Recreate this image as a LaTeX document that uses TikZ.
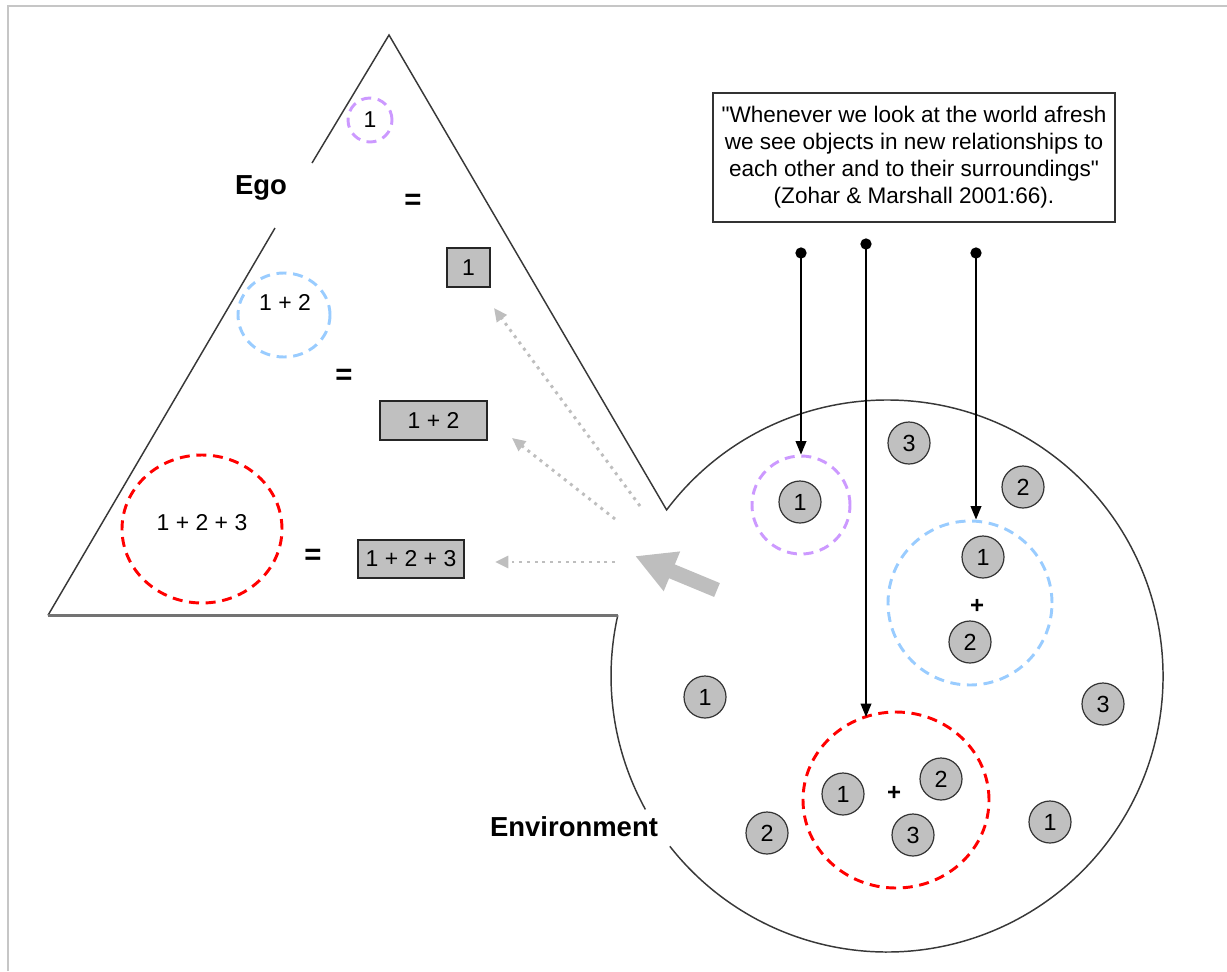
\documentclass[tikz,border=0pt]{standalone}
\usepackage{fontspec}
\setmainfont{Liberation Sans}
\newfontfamily\qfont{Liberation Sans}
\usetikzlibrary{arrows.meta,shapes.geometric}
\definecolor{purp}{HTML}{CC99FF}
\definecolor{lblue}{HTML}{99CCFF}
\definecolor{ballgray}{HTML}{C0C0C0}
\definecolor{arrgray}{HTML}{BEBEBE}
\tikzset{
  frame/.style={draw=gray!45, line width=1.5pt},
  outline/.style={draw=black!78, line width=1.1pt},
  baseline/.style={draw=black!55, line width=1.8pt},
  dashcirc/.style={line width=2.2pt, dash pattern=on 7.5pt off 5pt, inner sep=0pt},
  ball/.style={circle, draw=black!80, fill=ballgray, line width=0.9pt, minimum size=31.5pt, inner sep=0pt, font=\fontsize{17.5}{19}\selectfont},
  sumbox/.style={rectangle, draw=black!85, fill=ballgray, line width=1.1pt, inner sep=0pt, font=\fontsize{17.2}{19}\selectfont},
  digits/.style={font=\fontsize{17.2}{19}\selectfont, inner sep=0pt},
  eqsign/.style={font=\bfseries\fontsize{22}{23}\selectfont, inner sep=0pt},
  plussign/.style={font=\bfseries\fontsize{18}{20}\selectfont, inner sep=0pt},
  biglabel/.style={font=\bfseries\fontsize{20.6}{24}\selectfont, inner sep=0pt},
  dotnode/.style={circle, fill=black, minimum size=8.5pt, inner sep=0pt},
  pointer/.style={draw=black, line width=1pt, -{Triangle[length=10pt,width=8pt]}},
  dotarrow/.style={draw=arrgray, line width=2.2pt, dash pattern=on 2.2pt off 3.6pt, -{Triangle[length=10pt,width=9pt]}},
  bigarrow/.style={draw=arrgray, line width=11.25pt, -{Triangle[length=30pt,width=30pt]}},
}
\begin{document}
\begin{tikzpicture}[x=0.75pt,y=0.75pt]
\useasboundingbox (0,-971) rectangle (1227,0);
% frame
\coordinate (fbl) at (8,-971);
\coordinate (ftl) at (8,-5.5);
\coordinate (ftr) at (1227,-5.5);
\draw[frame] (fbl) -- (ftl) -- (ftr);

% triangle (Ego) and circle (Environment)
\coordinate (apex) at (389,-35);
\coordinate (bl) at (48,-615.3);
\coordinate (egoA) at (312,-163);
\coordinate (egoB) at (275,-228);
\coordinate (nt) at (666.6,-509.9);
\coordinate (nb) at (617.8,-615.3);
\coordinate (gt) at (645.4,-809.4);
\draw[outline] (bl) -- (egoB);
\draw[outline] (egoA) -- (apex) -- (nt) arc[start angle=143, end angle=-141.9, radius=276];
\draw[outline] (gt) arc[start angle=208.9, end angle=167.3, radius=276];
\draw[baseline] (bl) -- (nb);

\node[biglabel] (ego) at (261,-188) {Ego};
\node[biglabel] (env) at (574,-827) {Environment};

% triangle contents
\node[dashcirc, draw=purp, circle, minimum size=33pt, digits] (tp) at (370,-120) {1};
\node[dashcirc, draw=lblue, ellipse, minimum width=69pt, minimum height=63pt] (tb) at (284,-315) {};
\node[digits] (tbt) at (285,-302) {1 + 2};
\node[dashcirc, draw=red, ellipse, minimum width=120pt, minimum height=111pt] (tr) at (202,-529) {};
\node[digits] (trt) at (202,-523) {1 + 2 + 3};

\node[eqsign] (eq1) at (413,-202) {=};
\node[eqsign] (eq2) at (344,-377) {=};
\node[eqsign] (eq3) at (313,-557) {=};

\node[sumbox, minimum width=32pt, minimum height=29pt] (s1) at (468.5,-267.5) {1};
\node[sumbox, minimum width=80pt, minimum height=29pt] (s2) at (433.5,-420.5) {1 + 2};
\node[sumbox, minimum width=79.5pt, minimum height=28.5pt] (s3) at (411,-559) {1 + 2 + 3};

% gray dotted arrows and big arrow
\coordinate (a1s) at (640,-506);
\coordinate (a1e) at (494,-308);
\coordinate (a2s) at (615,-519);
\coordinate (a2e) at (512,-438);
\coordinate (a3s) at (615,-562);
\coordinate (a3e) at (495,-562);
\draw[dotarrow] (a1s) -- (a1e);
\draw[dotarrow] (a2s) -- (a2e);
\draw[dotarrow] (a3s) -- (a3e);
\coordinate (bas) at (717,-590);
\coordinate (bae) at (635,-556);
\draw[bigarrow] (bas) -- (bae);

% quote
\node[draw=black!80, line width=1pt, minimum width=301.5pt, minimum height=96.75pt, inner sep=0pt, align=center,
  font=\qfont\fontsize{16.9}{20.25}\selectfont] (quote) at (914,-157.5)
  {"Whenever we look at the world afresh\\we see objects in new relationships to\\each other and to their surroundings"\\(Zohar \& Marshall 2001:66).};

% environment groups
\node[dashcirc, draw=purp, circle, minimum size=73.5pt] (pe) at (801,-505) {};
\node[dashcirc, draw=lblue, circle, minimum size=123pt] (be) at (970,-603) {};
\node[dashcirc, draw=red, ellipse, minimum width=139.5pt, minimum height=132pt] (re) at (896,-800) {};

\node[ball] (b1) at (800,-502) {1};
\node[ball] (b2) at (909,-443) {3};
\node[ball] (b3) at (1023,-487) {2};
\node[ball] (b4) at (983,-557) {1};
\node[plussign] (p1) at (977,-606) {+};
\node[ball] (b5) at (970,-642) {2};
\node[ball] (b6) at (1103,-704) {3};
\node[ball] (b7) at (705,-697) {1};
\node[ball] (b8) at (843,-794) {1};
\node[plussign] (p2) at (894,-793) {+};
\node[ball] (b9) at (941,-779) {2};
\node[ball] (b10) at (913,-835) {3};
\node[ball] (b11) at (767,-833) {2};
\node[ball] (b12) at (1050,-822) {1};

% pointers
\node[dotnode] (d1) at (801,-253) {};
\node[dotnode] (d2) at (866,-244) {};
\node[dotnode] (d3) at (976,-253) {};
\coordinate (rt) at (866,-717);
\draw[pointer] (d1.center) -- (d1 |- pe.north);
\draw[pointer] (d2.center) -- (rt);
\draw[pointer] (d3.center) -- (d3 |- be.north);
\end{tikzpicture}
\end{document}
